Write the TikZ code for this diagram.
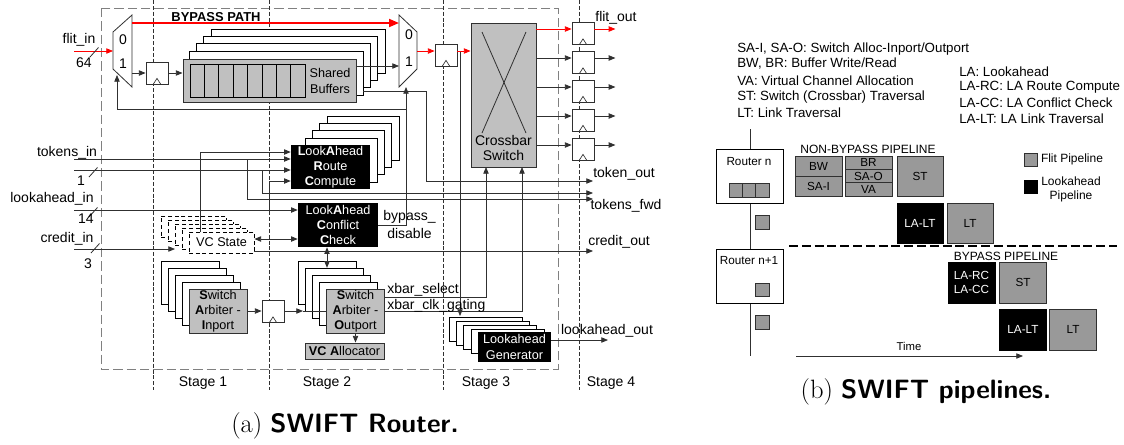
\documentclass[tikz,border=0pt]{standalone}
\usepackage{fontspec}
\newfontfamily\figfont{Liberation Sans}
\definecolor{boxgray}{HTML}{C0C0C0}
\definecolor{pipegray}{HTML}{999999}
\definecolor{wiregray}{HTML}{303030}
\usetikzlibrary{arrows.meta,positioning,calc}
\newcommand{\bl}[1]{{\bfseries #1}}
\begin{document}
\begin{tikzpicture}[
  x=0.75pt, y=-0.75pt,
  wh/.style 2 args={minimum width=#1*0.75pt, minimum height=#2*0.75pt},
  lbl/.style={font=\figfont\fontsize{10.5}{13}\selectfont, inner sep=0pt, align=center},
  boxlbl/.style={font=\figfont\fontsize{9.5}{11.3}\selectfont, inner sep=0pt, align=center},
  pipelbl/.style={font=\figfont\fontsize{8.8}{11}\selectfont, inner sep=0pt, align=center},
  keylbl/.style={font=\figfont\fontsize{10}{12}\selectfont, inner sep=0pt, anchor=west},
  sheet/.style={rectangle, draw=black, fill=white, line width=0.6pt},
  front/.style={rectangle, draw=wiregray, fill=boxgray, line width=0.7pt, inner sep=0pt},
  blackbox/.style={rectangle, fill=black, text=white, inner sep=0pt},
  reg/.style={rectangle, draw=wiregray, fill=white, line width=0.6pt, wh={22}{22},
    path picture={\draw[line width=0.5pt] ([xshift=-2.7pt]path picture bounding box.south)
      -- ([yshift=4.2pt]path picture bounding box.south)
      -- ([xshift=2.7pt]path picture bounding box.south);}},
  pipe/.style={rectangle, draw=wiregray, fill=pipegray, line width=0.6pt, inner sep=0pt},
  lapipe/.style={rectangle, draw=black, fill=black, text=white, inner sep=0pt},
  wire/.style={wiregray, line width=0.6pt},
  arr/.style={-{Stealth[length=5pt,width=4pt,inset=0pt]}, wiregray, line width=0.6pt},
  twoarr/.style={{Stealth[length=5pt,width=4pt,inset=0pt]}-{Stealth[length=5pt,width=4pt,inset=0pt]}, wiregray, line width=0.6pt},
  redarr/.style={-{Stealth[length=5pt,width=4pt,inset=0pt]}, red, line width=0.6pt},
  stageline/.style={wiregray, line width=0.45pt, dash pattern=on 3pt off 1.4pt},
  outerline/.style={gray, line width=0.6pt, dash pattern=on 7pt off 3pt},
  capt/.style={inner sep=0pt, font=\fontsize{19.9}{24}\selectfont}
]
  \useasboundingbox (0,0) rectangle (1124,444);

  \draw[outerline] (101,8) rectangle (558,369);
  \foreach \x in {153,269,443,579}
    \draw[stageline] (\x,0) -- (\x,390);

  \foreach \i in {0,...,3}
    \node[sheet, wh={174}{44}] (bufsheet\i) at (298-7.2*\i,51+7.3*\i) {};
  \node[front, wh={173}{43}] (buf) at (269.5,80.5) {};
  \foreach \i in {0,...,7}
    \node[front, draw=black, line width=0.55pt, wh={14.4}{33}] (slot\i) at (197.2+14.4*\i,80.5) {};
  \node[boxlbl] (buflbl) at (330,81) {Shared\\[0.8pt]Buffers};

  \foreach \i in {0,...,3}
    \node[sheet, wh={72}{44}] (larcsheet\i) at (363-7.2*\i,138+7.3*\i) {};
  \node[blackbox, wh={79}{44}, boxlbl] (larc) at (330.5,167)
    {\bl{L}ook\bl{A}head\\\bl{R}oute\\\bl{C}ompute};
  \node[blackbox, wh={80}{44}, boxlbl] (lacc) at (338,225)
    {Look\bl{A}head\\\bl{C}onflict\\\bl{C}heck};

  \foreach \i in {0,...,3}
    \node[sheet, dash pattern=on 3pt off 2pt, wh={65}{21}] (vcsheet\i) at (193.5+7*\i,226.5+4*\i) {};
  \node[sheet, dash pattern=on 3pt off 2pt, wh={65}{21}, boxlbl] (vcstate) at (221.5,242.5) {VC State};

  \foreach \i in {0,...,3}
    \node[sheet, wh={58}{43}] (saisheet\i) at (190+7.2*\i,282.5+7.2*\i) {};
  \node[front, wh={58}{44}, boxlbl] (sai) at (218,311) {\bl{S}witch\\\bl{A}rbiter -\\\bl{I}nport};
  \foreach \i in {0,...,3}
    \node[sheet, wh={58}{43}] (saosheet\i) at (327+7.2*\i,282.5+7.2*\i) {};
  \node[front, wh={58}{44}, boxlbl] (sao) at (355.5,311) {\bl{S}witch\\\bl{A}rbiter -\\\bl{O}utport};
  \node[front, wh={79}{16}, boxlbl] (vca) at (344.5,351) {\bl{VC A}llocator};

  \foreach \i in {0,...,3}
    \node[sheet, wh={73}{24}] (lgsheet\i) at (485.5+7.3*\i,329+4*\i) {};
  \node[blackbox, wh={73}{30}, boxlbl, font=\figfont\fontsize{9.5}{12}\selectfont] (lg) at (514.5,347) {Lookahead\\Generator};

  \node[front, wh={65}{144}] (xbar) at (503.5,95) {};
  \node[boxlbl, font=\figfont\fontsize{10.5}{11}\selectfont] (xbarlbl) at (503.5,148) {Crossbar\\Switch};
  \draw[wire] (482,32) -- (526,133);
  \draw[wire] (526,32) -- (482,133);

  \node[reg] (rega) at (157,73) {};
  \node[reg] (regb) at (446,55) {};
  \node[reg] (regc) at (273,311.5) {};
  \foreach \i/\y in {1/33.5,2/62.5,3/91,4/120,5/149}
    \node[reg] (out\i) at (583,\y) {};

  \draw[wire, fill=white] (113,32) -- (132,15) -- (132,87) -- (113,69) -- cycle;
  \draw[wire, fill=white] (399,15) -- (417,32) -- (417,69) -- (399,87) -- cycle;
  \node[lbl] (muxazero) at (123,40) {0};
  \node[lbl] (muxaone) at (123,64) {1};
  \node[lbl] (muxbzero) at (409,35) {0};
  \node[lbl] (muxbone) at (409,62) {1};

  \coordinate (flitin) at (74,51);
  \coordinate (muxain) at (113,51);
  \coordinate (muxaout) at (132,73);
  \coordinate (muxabyp) at (132,23);
  \coordinate (muxbbyp) at (399,23);
  \coordinate (muxbin) at (399,66);
  \coordinate (muxbout) at (417,51);
  \coordinate (muxbsel) at (406,87);
  \coordinate (muxasel) at (117,75);
  \coordinate (fbjoin) at (406,109);
  \coordinate (bufout) at (363,91);
  \coordinate (bufturn) at (426,91);
  \coordinate (tokout) at (593,181);
  \coordinate (tokenin) at (74,159);
  \coordinate (tokenintwo) at (74,170);
  \coordinate (lookin) at (74,210);
  \coordinate (creditin) at (74,249);
  \coordinate (fwda) at (247,199);
  \coordinate (fwdb) at (262,193);
  \coordinate (fwdaend) at (593,199);
  \coordinate (fwdbend) at (593,193);
  \coordinate (larctap) at (269,181);
  \coordinate (vctap) at (200,232);
  \coordinate (creditend) at (593,251);
  \coordinate (regbtap) at (460,51);
  \coordinate (lgtop) at (460,316);
  \coordinate (xbara) at (486,167);
  \coordinate (xbarb) at (522,167);
  \coordinate (lgout) at (608,340);

  \draw[red, line width=1.4pt, -{Stealth[length=7.5pt,width=6pt,inset=0pt]}] (muxabyp) -- (muxbbyp);
  \draw[redarr] (flitin) -- (muxain);
  \draw[arr] (muxaout) -- (rega.west |- muxaout);
  \draw[arr] (rega) -- (buf.west |- rega);
  \draw[arr] (buf.east |- muxbin) -- (muxbin);
  \draw[redarr] (muxbout) -- (regb.west |- muxbout);
  \draw[arr] (regbtap) -- (lgtop);
  \draw[redarr] (regb.east |- muxbout) -- (xbar.west |- muxbout);
  \draw[arr] (fbjoin) -- (muxasel |- fbjoin) -- (muxasel);
  \draw[arr] (lacc.east) -| (muxbsel);
  \draw[arr] (bufout) -- (bufturn) |- (tokout);
  \draw[arr] (tokenin) -- (larc.west |- tokenin);
  \draw[arr] (tokenintwo) -- (larc.west |- tokenintwo);
  \draw[arr] (vctap) |- (larc.west |- 0,152);
  \draw[arr] (lookin) -- (lacc.west |- lookin);
  \draw[arr] (larctap |- lookin) -- (larctap) -- (larc.west |- larctap);
  \draw[arr] (fwda |- tokenin) -- (fwda) -- (fwdaend);
  \draw[arr] (fwdb |- tokenintwo) -- (fwdb) -- (fwdbend);
  \draw[arr] (creditin) -- (175,249);
  \draw[twoarr] (vcstate.east |- 0,239) -- (lacc.west |- 0,239);
  \draw[arr] (vcstate.east |- creditend) -- (creditend);
  \draw[twoarr] (lacc.south -| 327,0) -- (saosheet1.north -| 327,0);
  \draw[arr] (sai.east) -- (regc.west |- sai.east);
  \draw[arr] (regc.east |- sai.east) -- (303,311) coordinate (saoin);
  \draw[wire] (saoin) -- (sao.west |- saoin);
  \draw[arr] (sao.south) -- (vca.north -| sao.south);
  \draw[arr] (sao.east |- 0,297) -| (xbara);
  \draw[arr] (sao.east |- 0,311) -| (xbarb);
  \draw[arr] (lg.east |- lgout) -- (lgout);
  \draw[redarr] (xbar.east |- 0,29) -- (out1.west |- 0,29);
  \draw[redarr] (out1.east |- 0,29) -- ++(21,0);
  \foreach \i/\y in {2/58,3/87,4/116,5/145} {
    \draw[arr] (xbar.east |- 0,\y) -- (out\i.west |- 0,\y);
    \draw[arr] (out\i.east |- 0,\y) -- ++(21,0);
  }
  \foreach \x/\y in {90/57,89/177,89/217,91/253}
    \draw[wire] (\x,\y) -- +(8.5,-9.5);

  \node[boxlbl, font=\figfont\bfseries\fontsize{9.7}{12}\selectfont] (bypasslbl) at (216,17) {BYPASS PATH};
  \node[lbl] (flitinlbl) at (79,40) {flit\_in};
  \node[lbl] (flitwidth) at (84,63) {64};
  \node[lbl] (tokinlbl) at (67,153) {tokens\_in};
  \node[lbl] (tokwidth) at (81,181) {1};
  \node[lbl] (lookinlbl) at (52,199) {lookahead\_in};
  \node[lbl] (lookwidth) at (86,219) {14};
  \node[lbl] (creditinlbl) at (67,239) {credit\_in};
  \node[lbl] (creditwidth) at (88,264) {3};
  \node[lbl] (bypassdis) at (409.5,224) {bypass\_\\[0.5pt]disable};
  \node[lbl, anchor=west] (xsellbl) at (387,290) {xbar\_select};
  \node[lbl, anchor=west] (xclklbl) at (387,306) {xbar\_clk\_gating};
  \node[lbl] (flitoutlbl) at (616,18) {flit\_out};
  \node[lbl] (tokoutlbl) at (624,174) {token\_out};
  \node[lbl] (tokfwdlbl) at (626,206) {tokens\_fwd};
  \node[lbl] (creditoutlbl) at (619,242) {credit\_out};
  \node[lbl] (lookoutlbl) at (607,331) {lookahead\_out};
  \node[lbl] (stagea) at (203,383) {Stage 1};
  \node[lbl] (stageb) at (327,383) {Stage 2};
  \node[lbl] (stagec) at (486,383) {Stage 3};
  \node[lbl] (staged) at (611,383) {Stage 4};
  \node[capt] (capta) at (345,426) {(a) {\sffamily\bfseries SWIFT Router.}};

  \node[keylbl] (keya) at (737,49) {SA-I, SA-O: Switch Alloc-Inport/Outport};
  \node[keylbl] (keyb) at (737,64) {BW, BR: Buffer Write/Read};
  \node[keylbl] (keyc) at (737,81) {VA: Virtual Channel Allocation};
  \node[keylbl] (keyd) at (737,97) {ST: Switch (Crossbar) Traversal};
  \node[keylbl] (keye) at (737,113) {LT: Link Traversal};
  \node[keylbl] (keyf) at (959,72) {LA: Lookahead};
  \node[keylbl] (keyg) at (959,87) {LA-RC: LA Route Compute};
  \node[keylbl] (keyh) at (959,103) {LA-CC: LA Conflict Check};
  \node[keylbl] (keyi) at (959,119) {LA-LT: LA Link Traversal};

  \coordinate (linktop) at (750,129);
  \coordinate (linkbot) at (750,356);
  \draw[wire] (linktop) -- (linkbot);
  \node[sheet, wh={67}{54}] (routern) at (749.5,176) {};
  \node[sheet, wh={67}{54}] (routerm) at (749.5,276) {};
  \node[pipelbl] (routernlbl) at (749,162) {Router n};
  \node[pipelbl] (routermlbl) at (749,261) {Router n+1};
  \foreach \i in {0,1,2}
    \node[pipe, wh={13.3}{14}] (cell\i) at (735.7+13.3*\i,190) {};
  \foreach \i/\y in {a/222.5,b/290,c/322.5}
    \node[pipe, wh={13.3}{13.5}] (flit\i) at (762.5,\y) {};

  \draw[line width=1.1pt, dash pattern=on 6.8pt off 2.8pt] (789,246) -- (1117,246);

  \node[pipelbl, font=\figfont\fontsize{9}{11}\selectfont] (nonbyp) at (868,149) {NON-BYPASS PIPELINE};
  \node[pipe, wh={47}{20}, pipelbl] (bw) at (818.5,166) {BW};
  \node[pipe, wh={47}{20}, pipelbl] (saishort) at (818.5,186) {SA-I};
  \node[pipe, wh={47}{13.3}, pipelbl] (br) at (868.5,162.6) {BR};
  \node[pipe, wh={47}{13.3}, pipelbl] (saoshort) at (868.5,176) {SA-O};
  \node[pipe, wh={47}{13.3}, pipelbl] (va) at (868.5,189.3) {VA};
  \node[pipe, wh={46}{40}, pipelbl] (st) at (920,176) {ST};
  \node[lapipe, wh={46}{40}, pipelbl] (lalt) at (920,223) {LA-LT};
  \node[pipe, wh={46}{40}, pipelbl] (lt) at (970,223) {LT};

  \node[pipe, wh={13}{13}] (keyflit) at (1030.5,159.5) {};
  \node[lapipe, wh={13}{13}] (keyla) at (1030.5,186.5) {};
  \node[pipelbl, font=\figfont\fontsize{9}{11}\selectfont] (keyflitlbl) at (1072,159) {Flit Pipeline};
  \node[pipelbl, font=\figfont\fontsize{9}{10.5}\selectfont] (keylalbl) at (1071,189) {Lookahead\\Pipeline};

  \node[pipelbl, font=\figfont\fontsize{9}{11}\selectfont] (byplbl) at (1006,256) {BYPASS PIPELINE};
  \node[lapipe, wh={47}{41}, pipelbl] (larcshort) at (971.5,282.5) {LA-RC\\LA-CC};
  \node[pipe, wh={47}{41}, pipelbl] (stb) at (1023,282.5) {ST};
  \node[lapipe, wh={47}{41}, pipelbl] (laltb) at (1023,329.5) {LA-LT};
  \node[pipe, wh={47}{41}, pipelbl] (ltb) at (1073,329.5) {LT};

  \coordinate (timestart) at (796,356);
  \coordinate (timeend) at (1023,356);
  \draw[arr] (timestart) -- (timeend);
  \node[pipelbl, font=\figfont\fontsize{8.5}{10}\selectfont] (timelbl) at (909,346) {Time};
  \node[capt] (captb) at (926,392) {(b) {\sffamily\bfseries SWIFT pipelines.}};
\end{tikzpicture}
\end{document}
